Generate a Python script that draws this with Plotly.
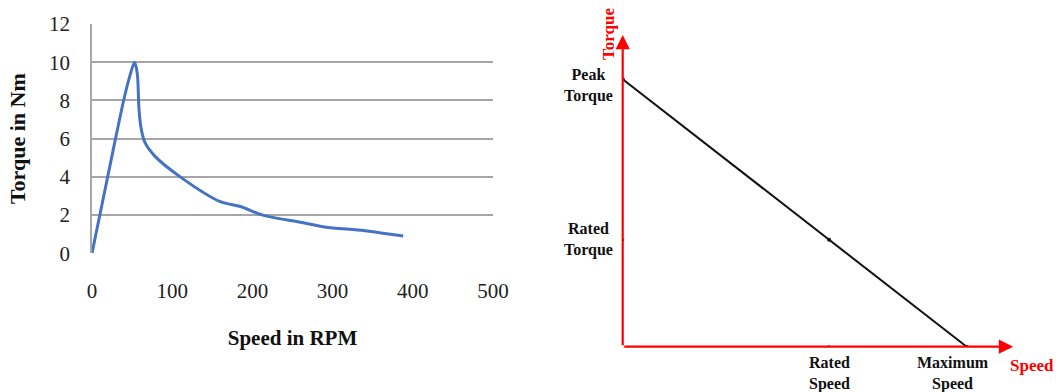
import plotly.graph_objects as go

# Measured torque-speed curve (left panel)
speed_rpm = [0, 20, 40, 48, 53, 56.5, 58.5, 61, 66, 78, 110, 160, 185, 213, 260, 290, 340, 388]
torque_nm = [0, 4.1, 8.1, 9.4, 10.0, 9.4, 7.6, 6.6, 5.8, 5.1, 4.0, 2.7, 2.45, 2.0, 1.62, 1.38, 1.18, 0.9]
x_ticks = [0, 100, 200, 300, 400, 500]
y_ticks = [0, 2, 4, 6, 8, 10, 12]

# Idealised characteristic (right panel), normalised units
ideal_speed = [0, 0.6, 1.0]
ideal_torque = [1.0, 0.4, 0.0]
speed_marks = [0.6, 1.0]
speed_names = ["Rated<br>Speed", "Maximum<br>Speed"]
torque_marks = [1.0, 0.4]
torque_names = ["Peak<br>Torque", "Rated<br>Torque"]

W, H = 1059, 392
SERIF = "Liberation Serif, Times New Roman, serif"
GRID = "#a6a6a6"
RED = "#ff0000"


def px_x(a, b):
    return [a / W, b / W]


def px_y(top, bottom):
    return [(H - bottom) / H, (H - top) / H]


fig = go.Figure()

fig.add_trace(go.Scatter(
    x=speed_rpm, y=torque_nm, mode="lines",
    line=dict(color="#4472c4", width=3, shape="spline", smoothing=0.8),
    xaxis="x", yaxis="y", showlegend=False, hoverinfo="skip",
))

fig.add_trace(go.Scatter(
    x=ideal_speed, y=ideal_torque, mode="lines+markers",
    line=dict(color="#111111", width=2),
    marker=dict(color="#111111", size=4),
    xaxis="x2", yaxis="y2", showlegend=False, hoverinfo="skip",
))
# small tick dots on the speed axis / torque axis
fig.add_trace(go.Scatter(
    x=[speed_marks[0], 0], y=[0, torque_marks[1]], mode="markers",
    marker=dict(color="#222222", size=3),
    xaxis="x2", yaxis="y2", showlegend=False, hoverinfo="skip",
))

x2_max = 1.2
fig.update_layout(
    width=W, height=H,
    margin=dict(l=0, r=0, t=0, b=0, autoexpand=False),
    paper_bgcolor="white", plot_bgcolor="white",
    font=dict(family=SERIF, color="#111111"),
    xaxis=dict(
        domain=px_x(92, 493), range=[0, 500], tickvals=x_ticks,
        showgrid=False, zeroline=False, showline=False, ticks="",
        tickfont=dict(size=21, family=SERIF, color="#222222"),
        ticklabelstandoff=23,
        title=dict(text="<b>Speed in RPM</b>", font=dict(size=21, family=SERIF, color="#111111"),
                   standoff=28),
        anchor="y", fixedrange=True, automargin=False,
    ),
    yaxis=dict(
        domain=px_y(24, 253.3), range=[0, 12.0001], tickvals=y_ticks,
        showgrid=True, gridcolor=GRID, gridwidth=1.6,
        zeroline=False, showline=True, linecolor=GRID, linewidth=1.6,
        ticks="", tickfont=dict(size=21, family=SERIF, color="#222222"),
        ticklabelstandoff=16,
        title=dict(text="<b>Torque in Nm</b>", font=dict(size=22, family=SERIF, color="#111111"),
                   standoff=17),
        anchor="x", fixedrange=True, automargin=False,
    ),
    xaxis2=dict(
        domain=px_x(622.7, 622.7 + 344 * x2_max), range=[0, x2_max],
        visible=False, anchor="y2", fixedrange=True, automargin=False,
    ),
    yaxis2=dict(
        domain=px_y(346.7 - 267.4 * 1.2, 346.7), range=[0, 1.2],
        visible=False, anchor="x2", fixedrange=True, automargin=False,
    ),
)

annotations = []
# red axes with arrow heads
annotations.append(dict(
    x=1.135, y=0, ax=0, ay=0, xref="x2", yref="y2", axref="x2", ayref="y2",
    text="", showarrow=True, arrowhead=2, arrowsize=1.3, arrowwidth=2.2,
    arrowcolor=RED, standoff=0,
))
annotations.append(dict(
    x=0, y=1.166, ax=0, ay=0, xref="x2", yref="y2", axref="x2", ayref="y2",
    text="", showarrow=True, arrowhead=2, arrowsize=1.3, arrowwidth=2.2,
    arrowcolor=RED, standoff=0,
))
# axis names
annotations.append(dict(
    x=1031.7 / W, y=(H - 365) / H, xref="paper", yref="paper", text="<b>Speed</b>",
    xanchor="center", yanchor="middle",
    showarrow=False, font=dict(size=17, family=SERIF, color=RED),
))
annotations.append(dict(
    x=608 / W, y=(H - 34) / H, xref="paper", yref="paper", text="<b>Torque</b>",
    xanchor="center", yanchor="middle",
    showarrow=False, textangle=-90, font=dict(size=17, family=SERIF, color=RED),
))
# speed labels under the axis
for xv, name, xs in zip(speed_marks, speed_names, [0, -14]):
    annotations.append(dict(
        x=xv, y=0, xref="x2", yref="y2", text=f"<b>{name}</b>", showarrow=False,
        xanchor="center", yanchor="top", xshift=xs, yshift=-5, align="center",
        font=dict(size=16, family=SERIF, color="#111111"),
    ))
# torque labels left of the axis
for yv, name, ys in zip(torque_marks, torque_names, [-6, 0]):
    annotations.append(dict(
        x=0, y=yv, xref="x2", yref="y2", text=f"<b>{name}</b>", showarrow=False,
        xanchor="right", yanchor="middle", xshift=-8, yshift=ys, align="center",
        font=dict(size=16, family=SERIF, color="#111111"),
    ))

fig.update_layout(annotations=annotations)

fig.write_html("out.html")
